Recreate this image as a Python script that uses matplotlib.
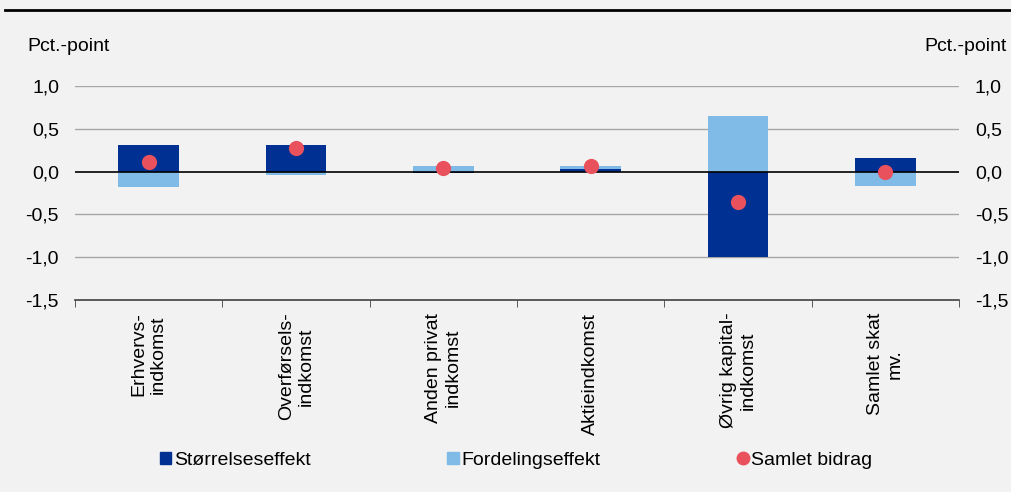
import matplotlib.pyplot as plt
from matplotlib.lines import Line2D
from matplotlib.patches import Patch
import numpy as np

plt.rcParams['font.family'] = ['Liberation Sans', 'DejaVu Sans']

categories = ["Erhvervs-\nindkomst", "Overførsels-\nindkomst", "Anden privat\nindkomst",
              "Aktieindkomst", "Øvrig kapital-\nindkomst", "Samlet skat\nmv."]
stoerrelse = [0.31, 0.31, -0.02, 0.03, -1.00, 0.16]
fordeling = [-0.185, -0.04, 0.06, 0.03, 0.65, -0.17]
samlet = [0.115, 0.27, 0.04, 0.06, -0.36, 0.00]
yticks = [1.0, 0.5, 0.0, -0.5, -1.0, -1.5]

dark = "#003192"
light = "#80bae6"
red = "#e9525c"
bg = "#f2f2f2"
fs = 14

fig = plt.figure(figsize=(10.12, 4.92), dpi=100, facecolor=bg)
ax = fig.add_axes([0.0741, 0.3902, 0.8735, 0.435], facecolor=bg)

x = np.arange(len(categories))
s = np.array(stoerrelse)
f = np.array(fordeling)
# stack positives on positives and negatives on negatives
s_base = np.zeros(len(x))
f_base = np.where(np.sign(f) == np.sign(s), s, 0.0)

w = 0.41
ax.bar(x, s, w, bottom=s_base, color=dark, zorder=2)
ax.bar(x, f, w, bottom=f_base, color=light, zorder=2)
ax.axhline(0, color="black", lw=1.2, zorder=3)
ax.scatter(x, samlet, s=120, color=red, zorder=4, linewidths=0)

ax.set_xlim(-0.5, len(x) - 0.5)
ax.set_ylim(-1.5, 1.0)
ax.set_yticks(yticks)
ax.set_yticklabels([f"{v:.1f}".replace(".", ",") for v in yticks])
for v in yticks:
    if v not in (0.0, -1.5):
        ax.axhline(v, color="#a6a6a6", lw=1, zorder=1)

ax.tick_params(axis="y", length=0, labelsize=fs, pad=11.5,
               labelleft=True, labelright=True, left=False, right=False)

ax.set_xticks(x)
ax.set_xticklabels(categories, rotation=90, fontsize=fs, ha="center", va="top",
                   multialignment="center")
ax.tick_params(axis="x", length=0, pad=9)
ax.set_xticks(np.arange(len(x) + 1) - 0.5, minor=True)
ax.tick_params(axis="x", which="minor", length=5, color="#404040", direction="out")

for side in ["top", "left", "right"]:
    ax.spines[side].set_visible(False)
ax.spines["bottom"].set_color("#404040")
ax.spines["bottom"].set_linewidth(1.2)

fig.text(0.027, 0.905, "Pct.-point", fontsize=fs, ha="left", va="center")
fig.text(0.995, 0.905, "Pct.-point", fontsize=fs, ha="right", va="center")

fig.add_artist(Line2D([0.005, 1.0], [0.979, 0.979], transform=fig.transFigure,
                      color="black", lw=2))

handles = [Patch(color=dark), Patch(color=light),
           Line2D([], [], marker="o", color=red, lw=0, markersize=9)]
labels = ["Størrelseseffekt", "Fordelingseffekt", "Samlet bidrag"]
fig.legend(handles, labels, loc="center", bbox_to_anchor=(0.510, 0.065), ncol=3,
           frameon=False, fontsize=fs, columnspacing=7.0, handlelength=0.6,
           handleheight=0.6, handletextpad=0.15)

fig.savefig("out.png", dpi=100, facecolor=bg)
